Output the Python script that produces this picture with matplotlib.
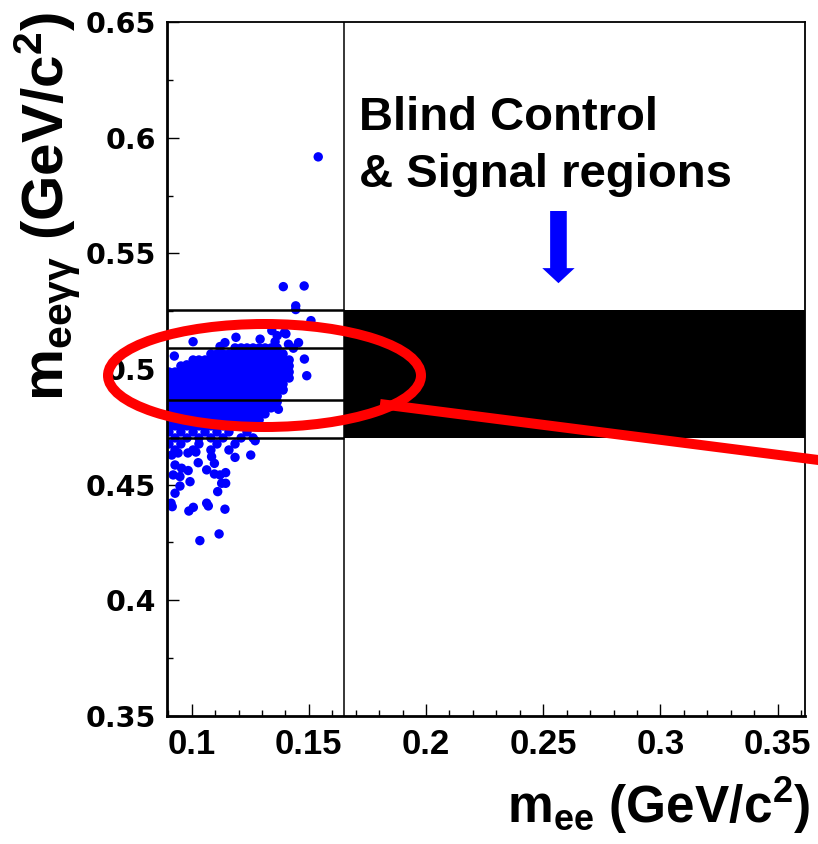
import numpy as np
import matplotlib
matplotlib.use("Agg")
import matplotlib.pyplot as plt
from matplotlib.patches import Ellipse, FancyArrow, Rectangle
from matplotlib.lines import Line2D
from matplotlib.ticker import MultipleLocator
from matplotlib import font_manager

plt.rcParams['mathtext.default'] = 'regular'

# ---------------- data ----------------
x_ticks = [0.1, 0.15, 0.2, 0.25, 0.3, 0.35]
x_tick_labels = ['0.1', '0.15', '0.2', '0.25', '0.3', '0.35']
y_ticks = [0.35, 0.4, 0.45, 0.5, 0.55, 0.6, 0.65]
y_tick_labels = ['0.35', '0.4', '0.45', '0.5', '0.55', '0.6', '0.65']
x_range = (0.0896, 0.3617)
y_range = (0.35, 0.65)

# m_eegg region boundaries (left: control/signal boxes, right: blinded band)
region_bounds = [0.470, 0.4865, 0.509, 0.5255]
mee_cut = 0.1651

# dense core of the event cloud: rows of (m_eegg, [m_ee ...])
dense_rows = [
    (0.5091, [0.1185, 0.1211, 0.1236, 0.1262, 0.1288, 0.1313, 0.1339, 0.1365]),
    (0.5065, [0.1082, 0.1108, 0.1134, 0.1159, 0.1185, 0.1211, 0.1236, 0.1262, 0.1288, 0.1313, 0.1339, 0.1365, 0.1390]),
    (0.5039, [0.1006, 0.1031, 0.1057, 0.1082, 0.1108, 0.1134, 0.1159, 0.1185, 0.1211, 0.1236, 0.1262, 0.1288, 0.1313, 0.1339, 0.1365, 0.1390, 0.1416]),
    (0.5013, [0.0954, 0.0980, 0.1006, 0.1031, 0.1057, 0.1082, 0.1108, 0.1134, 0.1159, 0.1185, 0.1211, 0.1236, 0.1262, 0.1288, 0.1313, 0.1339, 0.1365, 0.1390, 0.1416]),
    (0.4987, [0.0903, 0.0929, 0.0954, 0.0980, 0.1006, 0.1031, 0.1057, 0.1082, 0.1108, 0.1134, 0.1159, 0.1185, 0.1211, 0.1236, 0.1262, 0.1288, 0.1313, 0.1339, 0.1365, 0.1390, 0.1416]),
    (0.4961, [0.0903, 0.0929, 0.0954, 0.0980, 0.1006, 0.1031, 0.1057, 0.1082, 0.1108, 0.1134, 0.1159, 0.1185, 0.1211, 0.1236, 0.1262, 0.1288, 0.1313, 0.1339, 0.1365, 0.1390, 0.1416]),
    (0.4935, [0.0903, 0.0929, 0.0954, 0.0980, 0.1006, 0.1031, 0.1057, 0.1082, 0.1108, 0.1134, 0.1159, 0.1185, 0.1211, 0.1236, 0.1262, 0.1288, 0.1313, 0.1339, 0.1365, 0.1390]),
    (0.4909, [0.0903, 0.0929, 0.0954, 0.0980, 0.1006, 0.1031, 0.1057, 0.1082, 0.1108, 0.1134, 0.1159, 0.1185, 0.1211, 0.1236, 0.1262, 0.1288, 0.1313, 0.1339, 0.1365, 0.1390]),
    (0.4883, [0.0903, 0.0929, 0.0954, 0.0980, 0.1006, 0.1031, 0.1057, 0.1082, 0.1108, 0.1134, 0.1159, 0.1185, 0.1211, 0.1236, 0.1262, 0.1288, 0.1313, 0.1339, 0.1365]),
    (0.4858, [0.0903, 0.0929, 0.0954, 0.0980, 0.1006, 0.1031, 0.1057, 0.1082, 0.1108, 0.1134, 0.1159, 0.1185, 0.1211, 0.1236, 0.1262, 0.1288, 0.1313, 0.1339, 0.1365]),
    (0.4832, [0.0903, 0.0929, 0.0954, 0.0980, 0.1006, 0.1031, 0.1057, 0.1082, 0.1108, 0.1134, 0.1159, 0.1185, 0.1211, 0.1236, 0.1262, 0.1288, 0.1313, 0.1339]),
    (0.4806, [0.0903, 0.0929, 0.0954, 0.0980, 0.1006, 0.1031, 0.1057, 0.1082, 0.1108, 0.1134, 0.1159, 0.1185, 0.1211, 0.1236, 0.1262, 0.1288, 0.1313]),
    (0.4780, [0.0903, 0.0929, 0.0954, 0.0980, 0.1006, 0.1031, 0.1057, 0.1082, 0.1108, 0.1134, 0.1159, 0.1185, 0.1211, 0.1236, 0.1262, 0.1288]),
    (0.4754, [0.0903, 0.0929, 0.0954, 0.0980, 0.1006, 0.1031, 0.1057, 0.1082, 0.1108, 0.1134, 0.1159, 0.1185, 0.1211, 0.1236, 0.1262]),
    (0.4728, [0.0903, 0.0954, 0.1006, 0.1057, 0.1108, 0.1159, 0.1236]),
    (0.4702, [0.0929, 0.0980, 0.1031, 0.1082, 0.1134, 0.1211, 0.1262]),
    (0.4676, [0.0903, 0.0954, 0.1031, 0.1108, 0.1185]),
    (0.4650, [0.0929, 0.1006, 0.1082, 0.1159]),
]

# isolated events
sparse_mee = [0.1540, 0.1391, 0.1480, 0.1444, 0.1444, 0.1509, 0.1396, 0.1342, 0.1365, 0.1402,
              0.1292, 0.1356, 0.1456, 0.1413, 0.1434, 0.1481, 0.1006, 0.1142, 0.1189, 0.1121,
              0.0926, 0.0979, 0.1228, 0.1491, 0.1413, 0.1389, 0.1370, 0.1271, 0.1252, 0.1185,
              0.1085, 0.1028, 0.1097, 0.0929, 0.0957, 0.0985, 0.1064, 0.1097, 0.1121, 0.1145,
              0.0921, 0.0950, 0.0993, 0.1128, 0.1145, 0.0950, 0.1111, 0.0929, 0.0912, 0.0917,
              0.1007, 0.0988, 0.1064, 0.1071, 0.1142, 0.1117, 0.1035, 0.0915, 0.0942, 0.0984,
              0.1018]
sparse_meegg = [0.5917, 0.5356, 0.5359, 0.5273, 0.5257, 0.5209, 0.5157, 0.5166, 0.5144, 0.5152,
                0.5129, 0.5118, 0.5114, 0.5107, 0.5090, 0.5043, 0.5118, 0.5114, 0.5137, 0.5097,
                0.5056, 0.5018, 0.5068, 0.4971, 0.5018, 0.4913, 0.4826, 0.4690, 0.4628, 0.4618,
                0.4621, 0.4595, 0.4592, 0.4585, 0.4571, 0.4561, 0.4564, 0.4546, 0.4542, 0.4552,
                0.4542, 0.4535, 0.4513, 0.4506, 0.4506, 0.4494, 0.4470, 0.4463, 0.4420, 0.4405,
                0.4402, 0.4386, 0.4420, 0.4408, 0.4394, 0.4287, 0.4258, 0.4628, 0.4637, 0.4637,
                0.4641]

annotation_lines = ['Blind Control', '& Signal regions']

# ---------------- figure ----------------
W, H = 818, 844
fig = plt.figure(figsize=(W / 100, H / 100), dpi=100)
ax = fig.add_axes([167.3 / W, 1 - 716 / H, (805 - 167.3) / W, (716 - 22) / H])
ax.set_xlim(*x_range)
ax.set_ylim(*y_range)

mee = []
meegg = []
for yv, xs in dense_rows:
    mee.extend(xs)
    meegg.extend([yv] * len(xs))
mee.extend(sparse_mee)
meegg.extend(sparse_meegg)

ax.scatter(mee, meegg, s=46, color='#0000ff', edgecolors='none', zorder=2)

# region lines / blinded box
ax.hlines(region_bounds, x_range[0], mee_cut, colors='black', lw=1.8, zorder=3)
ax.axvline(mee_cut, color='black', lw=1.1, zorder=3)
ax.add_patch(Rectangle((mee_cut, region_bounds[0]), x_range[1] - mee_cut,
                       region_bounds[-1] - region_bounds[0], facecolor='black',
                       edgecolor='none', zorder=3))

# ticks
ax.set_xticks(x_ticks, labels=x_tick_labels, fontfamily='Liberation Sans',
              fontweight='bold', fontsize=25)
ax.set_yticks(y_ticks, labels=y_tick_labels, fontfamily='DejaVu Sans',
              fontweight='bold', fontsize=20.5)
ax.xaxis.set_minor_locator(MultipleLocator(0.01))
ax.yaxis.set_minor_locator(MultipleLocator(0.025))
ax.tick_params(which='major', direction='in', length=8.6, width=1.0, top=False, right=False)
ax.tick_params(which='minor', direction='in', length=4.3, width=1.0, top=False, right=False)
ax.tick_params(axis='x', which='major', pad=9)
ax.tick_params(axis='y', which='major', pad=8)
for side in ['left', 'bottom']:
    ax.spines[side].set_linewidth(2.0)
for side in ['top', 'right']:
    ax.spines[side].set_linewidth(1.3)

# axis titles
fig.text(48 / W, 1 - 12 / H, r'$m_{eeγγ}$ (GeV/c$^{2}$)', rotation=90, ha='center', va='top',
         fontsize=42, fontweight='bold', family='Liberation Sans')
fig.text(810 / W, 1 - 823 / H, r'$m_{ee}$ (GeV/c$^{2}$)', ha='right', va='baseline',
         fontsize=37, fontweight='bold', family='Liberation Sans')

# annotation text and arrow
ax.text(0.1716, 0.6033, annotation_lines[0], fontsize=34, fontweight='bold',
        family='Liberation Sans', ha='left', va='baseline', zorder=5)
ax.text(0.1716, 0.5786, annotation_lines[1], fontsize=34, fontweight='bold',
        family='Liberation Sans', ha='left', va='baseline', zorder=5)
ax.add_patch(FancyArrow(0.2565, 0.5683, 0, 0.5371 - 0.5683, width=0.0071,
                        head_width=0.0138, head_length=0.0065,
                        length_includes_head=True, color='#0000ff', lw=0, zorder=5))

# red highlight ellipse and pointer line (figure pixel coordinates)
ell = Ellipse((264.5 / W, 1 - 375.5 / H), width=2 * 156.5 / W, height=2 * 51.5 / H,
              transform=fig.transFigure, fill=False, edgecolor='#ff0000', lw=7.2, zorder=10)
fig.add_artist(ell)
ln = Line2D([380 / W, 830 / W], [1 - 404 / H, 1 - 461.5 / H], transform=fig.transFigure,
            color='#ff0000', lw=7.2, solid_capstyle='butt', zorder=10)
fig.add_artist(ln)

fig.savefig('out.png', dpi=100)
